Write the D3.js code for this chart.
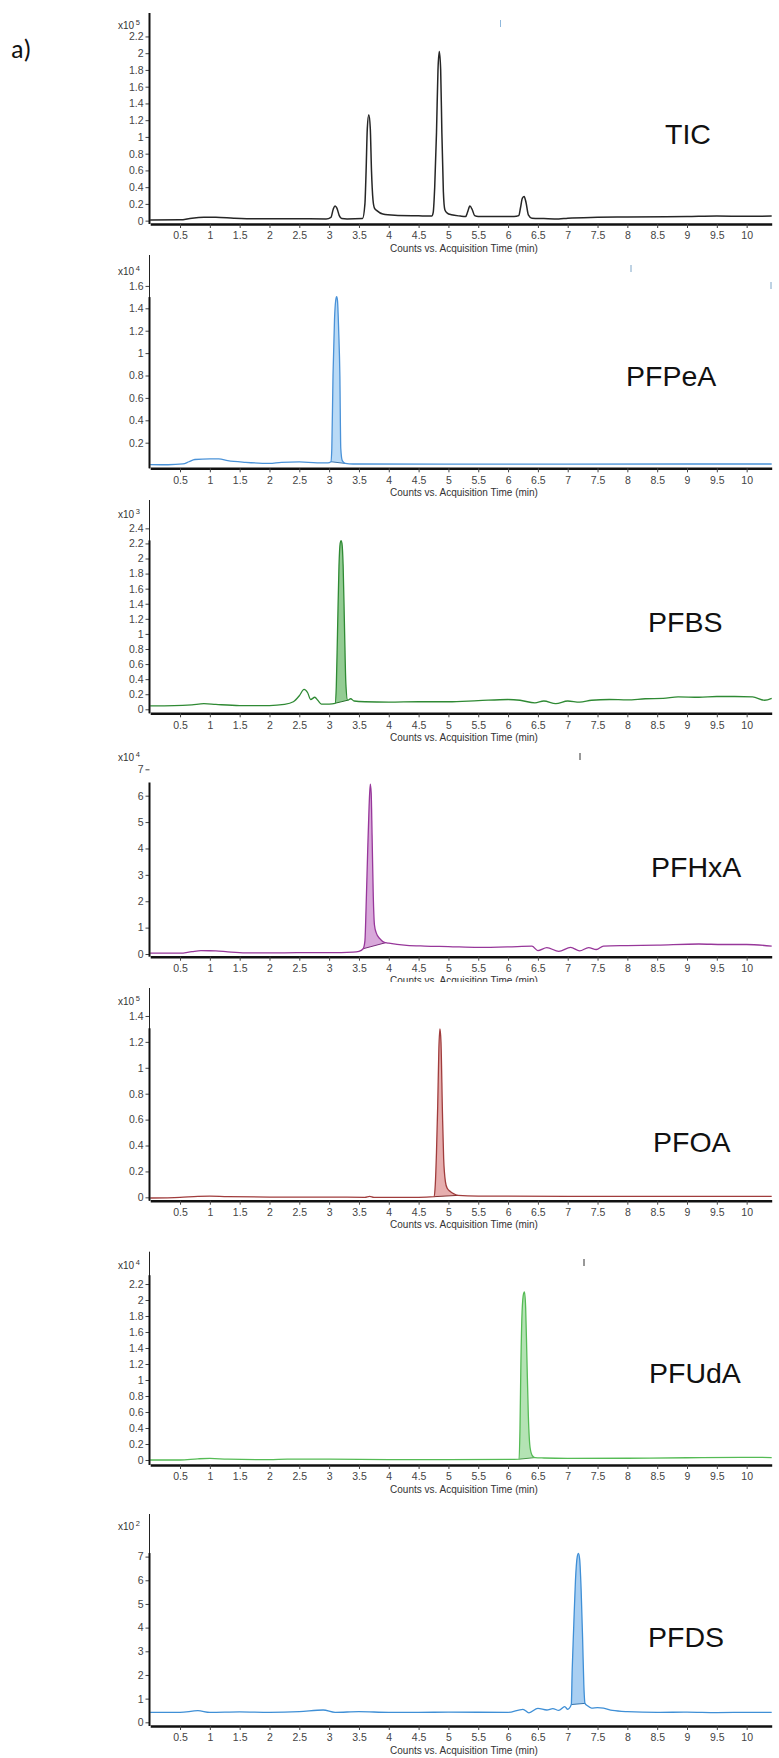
<!DOCTYPE html>
<html>
<head>
<meta charset="utf-8">
<script src="https://cdn.jsdelivr.net/npm/d3@7"></script>
<style>
  body { margin: 0; background: #fff; }
  svg { display: block; }
</style>
</head>
<body>
<div id="container"></div>
<script>
// ---- data ----
const compounds = ["TIC", "PFPeA", "PFBS", "PFHxA", "PFOA", "PFUdA", "PFDS"];
const exponents = [5, 4, 3, 4, 5, 4, 2];

const xDomain = [0, 10.42];
const xTicks = [0.5, 1, 1.5, 2, 2.5, 3, 3.5, 4, 4.5, 5, 5.5, 6, 6.5, 7, 7.5, 8, 8.5, 9, 9.5, 10];

const yDomains = [
  [-0.04, 2.48],
  [-0.0286, 1.876],
  [-0.053, 2.776],
  [-0.102, 7.0],
  [-0.026, 1.616],
  [-0.0625, 2.604],
  [-0.156, 8.8]
];

const yTicks = [
  [0, 0.2, 0.4, 0.6, 0.8, 1, 1.2, 1.4, 1.6, 1.8, 2, 2.2],
  [0.2, 0.4, 0.6, 0.8, 1, 1.2, 1.4, 1.6],
  [0, 0.2, 0.4, 0.6, 0.8, 1, 1.2, 1.4, 1.6, 1.8, 2, 2.2, 2.4],
  [0, 1, 2, 3, 4, 5, 6, 7],
  [0, 0.2, 0.4, 0.6, 0.8, 1, 1.2, 1.4],
  [0, 0.2, 0.4, 0.6, 0.8, 1, 1.2, 1.4, 1.6, 1.8, 2, 2.2],
  [0, 1, 2, 3, 4, 5, 6, 7]
];

// [time (min), counts / 10^exp]
const ticSeries = [
  [0, 0.008], [0.5, 0.01], [0.7, 0.03], [0.9, 0.04], [1.1, 0.041], [1.4, 0.03], [1.8, 0.022],
  [2.5, 0.022], [2.95, 0.02], [3.03, 0.04], [3.07, 0.14], [3.1, 0.175], [3.13, 0.15],
  [3.17, 0.06], [3.21, 0.025], [3.3, 0.02], [3.56, 0.025], [3.6, 0.2], [3.62, 0.6],
  [3.64, 1.1], [3.665, 1.264], [3.69, 1.1], [3.71, 0.6], [3.735, 0.25], [3.76, 0.15],
  [3.8, 0.12], [3.9, 0.08], [4.1, 0.065], [4.5, 0.058], [4.72, 0.055], [4.745, 0.1],
  [4.77, 0.4], [4.8, 1.05], [4.825, 1.8], [4.847, 2.02], [4.87, 1.8], [4.89, 1.05],
  [4.915, 0.35], [4.94, 0.13], [4.98, 0.09], [5.05, 0.07], [5.2, 0.055], [5.29, 0.05],
  [5.32, 0.1], [5.36, 0.175], [5.4, 0.13], [5.44, 0.06], [5.5, 0.05], [6.1, 0.05],
  [6.18, 0.06], [6.21, 0.16], [6.24, 0.27], [6.27, 0.287], [6.3, 0.22], [6.34, 0.07],
  [6.4, 0.03], [6.6, 0.025], [6.85, 0.02], [7.0, 0.03], [7.5, 0.04], [8, 0.045],
  [9, 0.05], [9.5, 0.056], [10, 0.052], [10.42, 0.055]
];

const pfpeaSeries = [
  [0, 0.005], [0.3, 0.003], [0.55, 0.01], [0.65, 0.03], [0.75, 0.05], [1.0, 0.055],
  [1.15, 0.055], [1.3, 0.04], [1.6, 0.025], [2.0, 0.015], [2.2, 0.025], [2.5, 0.028],
  [2.8, 0.02], [2.98, 0.02], [3.03, 0.03], [3.045, 0.15], [3.065, 0.8], [3.09, 1.3],
  [3.11, 1.47], [3.126, 1.504], [3.14, 1.47], [3.16, 1.2], [3.18, 0.8], [3.195, 0.15],
  [3.22, 0.04], [3.27, 0.015], [3.4, 0.01], [5, 0.008], [7, 0.008], [9, 0.01], [10.42, 0.01]
];

const pfbsSeries = [
  [0, 0.045], [0.4, 0.048], [0.7, 0.06], [0.9, 0.075], [1.1, 0.065], [1.5, 0.05],
  [2.0, 0.05], [2.25, 0.065], [2.4, 0.1], [2.5, 0.18], [2.58, 0.265], [2.64, 0.22],
  [2.69, 0.13], [2.76, 0.16], [2.81, 0.12], [2.87, 0.07], [3.0, 0.07], [3.1, 0.08],
  [3.12, 0.3], [3.14, 1.0], [3.165, 1.9], [3.185, 2.2], [3.2, 2.236], [3.215, 2.2],
  [3.235, 1.9], [3.26, 1.0], [3.28, 0.35], [3.31, 0.12], [3.36, 0.14], [3.42, 0.11],
  [3.6, 0.1], [4, 0.095], [4.5, 0.1], [5, 0.1], [5.5, 0.115], [6, 0.13], [6.2, 0.12],
  [6.45, 0.085], [6.6, 0.11], [6.8, 0.075], [7, 0.11], [7.2, 0.095], [7.4, 0.12],
  [7.7, 0.13], [8, 0.125], [8.3, 0.14], [8.6, 0.145], [8.85, 0.165], [9.2, 0.16],
  [9.5, 0.17], [9.8, 0.17], [10.1, 0.165], [10.3, 0.12], [10.42, 0.145]
];

const pfhxaSeries = [
  [0, 0.03], [0.5, 0.03], [0.7, 0.09], [0.85, 0.125], [1.1, 0.12], [1.3, 0.08], [1.6, 0.04],
  [2, 0.04], [2.5, 0.05], [3.0, 0.05], [3.4, 0.07], [3.5, 0.1], [3.57, 0.2], [3.6, 0.5],
  [3.62, 1.8], [3.645, 3.8], [3.67, 5.6], [3.69, 6.44], [3.705, 6.1], [3.72, 4.5],
  [3.74, 2.2], [3.76, 1.1], [3.79, 0.8], [3.85, 0.58], [3.9, 0.47], [3.95, 0.43],
  [4.0, 0.41], [4.3, 0.33], [4.6, 0.3], [5, 0.28], [5.5, 0.25], [6, 0.27], [6.4, 0.3],
  [6.5, 0.13], [6.65, 0.24], [6.85, 0.1], [7.05, 0.25], [7.2, 0.12], [7.35, 0.24],
  [7.48, 0.17], [7.6, 0.3], [8, 0.32], [8.5, 0.34], [9.2, 0.38], [9.6, 0.36], [10, 0.36],
  [10.42, 0.3]
];

const pfoaSeries = [
  [0, -0.005], [0.5, 0], [0.8, 0.008], [1.0, 0.01], [1.3, 0.005], [2, 0.002], [3, 0.002],
  [3.6, 0.0], [3.68, 0.008], [3.75, 0.0], [4.5, 0.0], [4.76, 0.005], [4.78, 0.1],
  [4.8, 0.35], [4.82, 0.7], [4.84, 1.15], [4.858, 1.3], [4.875, 1.2], [4.9, 0.65],
  [4.92, 0.3], [4.95, 0.12], [4.98, 0.07], [5.03, 0.045], [5.1, 0.025], [5.16, 0.015],
  [5.5, 0.01], [7, 0.008], [9, 0.008], [10.42, 0.008]
];

const pfudaSeries = [
  [0, 0], [0.5, 0.0], [0.8, 0.015], [1.0, 0.02], [1.3, 0.01], [2, 0.005], [2.3, 0.012],
  [3, 0.01], [4, 0.005], [5, 0.005], [6.1, 0.008], [6.185, 0.01], [6.2, 0.4],
  [6.215, 1.2], [6.235, 1.85], [6.26, 2.08], [6.275, 2.1], [6.295, 1.9], [6.315, 1.3],
  [6.34, 0.55], [6.37, 0.15], [6.41, 0.05], [6.45, 0.03], [6.6, 0.025], [7, 0.02],
  [8, 0.022], [9, 0.028], [10, 0.034], [10.42, 0.03]
];

const pfdsSeries = [
  [0, 0.42], [0.5, 0.42], [0.8, 0.49], [1.0, 0.42], [1.5, 0.44], [2.0, 0.42], [2.5, 0.45],
  [2.9, 0.52], [3.1, 0.42], [3.5, 0.45], [4, 0.42], [4.5, 0.42], [5, 0.43], [6.0, 0.42],
  [6.25, 0.55], [6.35, 0.4], [6.5, 0.59], [6.65, 0.52], [6.75, 0.58], [6.85, 0.5],
  [6.95, 0.66], [7.0, 0.55], [7.06, 0.75], [7.075, 2.2], [7.1, 4.0], [7.13, 6.0],
  [7.16, 7.0], [7.18, 7.14], [7.2, 6.9], [7.225, 5.6], [7.25, 3.5], [7.27, 1.6],
  [7.29, 0.8], [7.33, 0.7], [7.4, 0.6], [7.5, 0.62], [7.6, 0.6], [7.75, 0.5], [8, 0.45],
  [8.5, 0.42], [9, 0.43], [9.5, 0.41], [10, 0.42], [10.42, 0.42]
];

const series = [ticSeries, pfpeaSeries, pfbsSeries, pfhxaSeries, pfoaSeries, pfudaSeries, pfdsSeries];

// integrated peak windows (min)
const peakWindows = [null, [3.03, 3.27], [3.1, 3.31], [3.57, 3.95], [4.76, 5.16], [6.185, 6.45], [7.06, 7.29]];

// ---- layout & styles ----
const width = 779, height = 1758;
const plotLeft = 150.2, plotRight = 771.7;

const panels = [
  { top: 13,     bottom: 224,    unitY: 29,   labelX: 665, labelY: 144,    solidFrom: 2.48, thinAxis: false },
  { top: 255,    bottom: 468.3,  unitY: 275,  labelX: 626, labelY: 386,    solidFrom: 1.5,  thinAxis: true },
  { top: 500,    bottom: 713.3,  unitY: 517.5, labelX: 648, labelY: 631.7, solidFrom: 2.24, thinAxis: true },
  { top: 769.3,  bottom: 956.7,  unitY: 761,  labelX: 651, labelY: 876.7,  solidFrom: 6.5,  thinAxis: false, clipLabel: 982 },
  { top: 988,    bottom: 1200.7, unitY: 1005, labelX: 653, labelY: 1151.5, solidFrom: 1.305, thinAxis: true },
  { top: 1251.7, bottom: 1465,   unitY: 1269, labelX: 649, labelY: 1383.3, solidFrom: 2.31, thinAxis: true },
  { top: 1514,   bottom: 1726,   unitY: 1530, labelX: 648, labelY: 1646.7, solidFrom: 7.15, thinAxis: true }
];

const styles = [
  { line: "#262626", fill: null,      width: 1.5 },
  { line: "#4a92d8", fill: "#b9daf6", width: 1.3 },
  { line: "#2f8a34", fill: "#93cc93", width: 1.3 },
  { line: "#97379a", fill: "#d8a8da", width: 1.3 },
  { line: "#a03c3c", fill: "#e6aeae", width: 1.3 },
  { line: "#55bb55", fill: "#b4e3b4", width: 1.3 },
  { line: "#3f8fd6", fill: "#a9cff2", width: 1.3 }
];

const font = "'Liberation Sans', Arial, sans-serif";

const svg = d3.select("#container")
  .append("svg")
  .attr("width", width)
  .attr("height", height);

// panel label "a)"
svg.append("text")
  .attr("x", 11)
  .attr("y", 58)
  .attr("font-family", "Carlito, 'Open Sans', sans-serif")
  .attr("font-size", 26)
  .attr("fill", "#111")
  .text("a)");

const x = d3.scaleLinear().domain(xDomain).range([plotLeft, plotRight]);

panels.forEach((p, i) => {
  const y = d3.scaleLinear().domain(yDomains[i]).range([p.bottom, p.top]);
  const st = styles[i];
  const data = series[i];
  const g = svg.append("g");

  // integrated peak fill + its baseline
  if (peakWindows[i]) {
    const [t0, t1] = peakWindows[i];
    const seg = data.filter(d => d[0] >= t0 && d[0] <= t1);
    const a = seg[0], b = seg[seg.length - 1];
    const base = t => a[1] + (b[1] - a[1]) * (t - a[0]) / (b[0] - a[0]);
    const area = d3.area()
      .x(d => x(d[0]))
      .y1(d => y(d[1]))
      .y0(d => y(base(d[0])))
      .curve(d3.curveMonotoneX);
    g.append("path")
      .datum(seg)
      .attr("d", area)
      .attr("fill", st.fill)
      .attr("stroke", "none");
    g.append("line")
      .attr("x1", x(a[0])).attr("y1", y(a[1]))
      .attr("x2", x(b[0])).attr("y2", y(b[1]))
      .attr("stroke", d3.color(st.line).darker(0.6))
      .attr("stroke-width", 1);
  }

  // trace
  const line = d3.line()
    .x(d => x(d[0]))
    .y(d => y(d[1]))
    .curve(d3.curveMonotoneX);
  g.append("path")
    .datum(data)
    .attr("d", line)
    .attr("fill", "none")
    .attr("stroke", st.line)
    .attr("stroke-width", st.width)
    .attr("stroke-linejoin", "round");

  // y axis
  const yAxis = g.append("g")
    .attr("transform", `translate(${x(0) - 0.7},0)`)
    .call(d3.axisLeft(y).tickValues(yTicks[i]).tickSize(4).tickPadding(2).tickFormat(d => d));
  yAxis.select(".domain").remove();
  yAxis.selectAll(".tick line").attr("stroke", "#444");
  yAxis.selectAll(".tick text")
    .attr("fill", "#444")
    .attr("font-family", font)
    .attr("font-size", 10.5);

  const ax = x(0) - 0.7;
  if (p.thinAxis) {
    g.append("line")
      .attr("x1", ax).attr("x2", ax)
      .attr("y1", p.top).attr("y2", p.bottom)
      .attr("stroke", "#222").attr("stroke-width", 1);
  }
  g.append("line")
    .attr("x1", ax).attr("x2", ax)
    .attr("y1", y(p.solidFrom)).attr("y2", p.bottom)
    .attr("stroke", "#111").attr("stroke-width", 2);

  // exponent label
  const unit = g.append("text")
    .attr("x", 118)
    .attr("y", p.unitY)
    .attr("font-family", font)
    .attr("font-size", 10)
    .attr("fill", "#333");
  unit.append("tspan").text("x10");
  unit.append("tspan")
    .attr("dx", 1.5)
    .attr("dy", -4)
    .attr("font-size", 7.5)
    .text(exponents[i]);

  // x axis
  const xAxis = g.append("g")
    .attr("transform", `translate(0,${p.bottom})`)
    .call(d3.axisBottom(x).tickValues(xTicks).tickSize(4).tickSizeOuter(0).tickPadding(4).tickFormat(d => d));
  xAxis.select(".domain")
    .attr("stroke", "#111")
    .attr("stroke-width", 2.5);
  xAxis.selectAll(".tick line").attr("stroke", "#444");
  xAxis.selectAll(".tick text")
    .attr("fill", "#444")
    .attr("font-family", font)
    .attr("font-size", 10.5);

  // x axis title
  const title = g.append("text")
    .attr("x", 464)
    .attr("y", p.bottom + 27.5)
    .attr("text-anchor", "middle")
    .attr("font-family", font)
    .attr("font-size", 10)
    .attr("fill", "#333")
    .text("Counts vs. Acquisition Time (min)");
  if (p.clipLabel) {
    const id = "clip" + i;
    svg.append("clipPath").attr("id", id)
      .append("rect")
      .attr("x", 0).attr("y", 0)
      .attr("width", width).attr("height", p.clipLabel);
    title.attr("clip-path", `url(#${id})`);
  }

  // compound name
  g.append("text")
    .attr("x", p.labelX)
    .attr("y", p.labelY)
    .attr("font-family", font)
    .attr("font-size", 28.5)
    .attr("fill", "#111")
    .text(compounds[i]);
});

// small stray marks present in the original export
const strayMarks = [
  { x: 500.5, y1: 20, y2: 27, color: "#8fb8dc" },
  { x: 631, y1: 265, y2: 272, color: "#7fa6c8" },
  { x: 771, y1: 282, y2: 289, color: "#7fa6c8" },
  { x: 580, y1: 753, y2: 760, color: "#333" },
  { x: 584, y1: 1259, y2: 1266, color: "#333" }
];
svg.selectAll(".stray")
  .data(strayMarks)
  .join("line")
  .attr("class", "stray")
  .attr("x1", d => d.x).attr("x2", d => d.x)
  .attr("y1", d => d.y1).attr("y2", d => d.y2)
  .attr("stroke", d => d.color)
  .attr("stroke-width", 1);
</script>
</body>
</html>
